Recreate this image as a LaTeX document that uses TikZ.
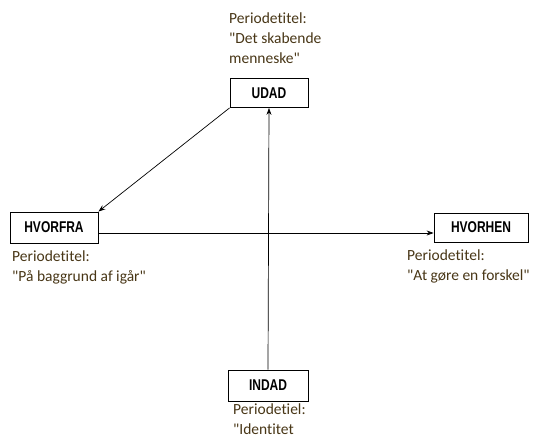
\documentclass[tikz,border=0pt]{standalone}
\usepackage{fontspec}
\setmainfont{Carlito}[Ligatures={TeXOff,NoCommon}]
\newfontfamily\boxfont{Liberation Sans}
\usetikzlibrary{arrows.meta}
\definecolor{lbl}{RGB}{72,54,22}
\newcommand\boxlbl[1]{\scalebox{1}[1.3]{#1}}
\tikzset{
  stagebox/.style={draw=black, line width=0.8pt, fill=white, inner sep=0pt,
    font=\boxfont\bfseries\fontsize{12}{14}\selectfont},
  lbltext/.style={text=lbl, align=left, inner sep=0pt, anchor=north west,
    font=\fontsize{15.5}{20}\selectfont},
  conn/.style={draw=black, line width=0.7pt, -{Stealth[length=7pt,width=5pt]}}
}
\begin{document}
\begin{tikzpicture}[x=1pt,y=-1pt]
\useasboundingbox (0,0) rectangle (533,435);
\node[stagebox, minimum width=78pt, minimum height=29pt] (udad) at (269,93) {\boxlbl{UDAD}};
\node[stagebox, minimum width=88pt, minimum height=31pt] (hvorfra) at (54,227.5) {\boxlbl{HVORFRA}};
\node[stagebox, minimum width=94pt, minimum height=29pt] (hvorhen) at (481,227.5) {\boxlbl{HVORHEN}};
\node[stagebox, minimum width=80pt, minimum height=31pt] (indad) at (268,385.5) {\boxlbl{INDAD}};
\node[lbltext] (l1) at (229,13) {Periodetitel:\\"Det skabende\\menneske"};
\node[lbltext] (l2) at (12,251) {Periodetitel:\\"På baggrund af igår"};
\node[lbltext] (l3) at (407,250) {Periodetitel:\\"At gøre en forskel"};
\node[lbltext] (l4) at (233,404) {Periodetiel:\\"Identitet};
\draw[conn] ([yshift=-5.5pt]hvorfra.east) -- ([yshift=-5.5pt]hvorhen.west);
\draw[conn] (indad.north) -- (udad.south);
\draw[conn] (udad.south west) -- (hvorfra.north east);
\end{tikzpicture}
\end{document}
